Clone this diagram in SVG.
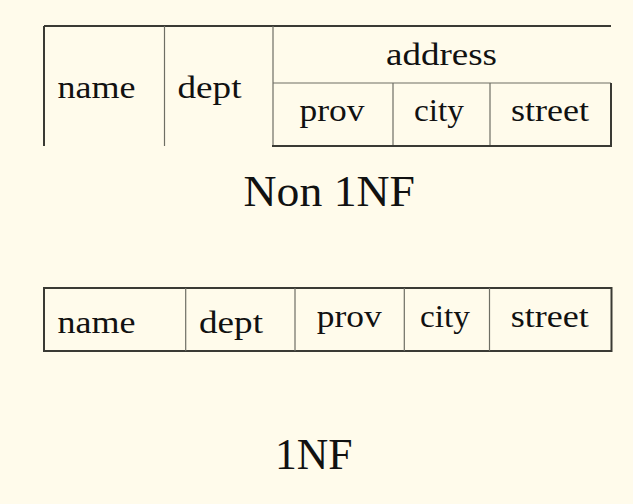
<svg xmlns="http://www.w3.org/2000/svg" width="633" height="504" viewBox="0 0 633 504">
<style>
.t{font-family:"Liberation Serif","DejaVu Serif",serif;font-size:32px;fill:#111;}
.h{font-family:"Liberation Serif","DejaVu Serif",serif;font-size:45px;fill:#111;}
.outer{stroke:#3a3a34;stroke-width:2;fill:none;}
.inner{stroke:#6e6e64;stroke-width:1.2;fill:none;}
</style>
<rect width="633" height="504" fill="#FFFBEB"/>
<g id="non1nf-table">
<g id="lines1">
<line class="outer" x1="44" y1="26" x2="611" y2="26"/>
<line class="outer" x1="44" y1="26" x2="44" y2="146"/>
<line class="inner" x1="164.5" y1="26" x2="164.5" y2="146"/>
<line class="inner" x1="273" y1="26" x2="273" y2="146"/>
<line class="inner" x1="273" y1="83" x2="611" y2="83"/>
<line class="inner" x1="393" y1="83" x2="393" y2="146"/>
<line class="inner" x1="490" y1="83" x2="490" y2="146"/>
<line class="outer" x1="611" y1="83" x2="611" y2="146"/>
<line class="outer" x1="272" y1="146" x2="612" y2="146"/>
</g>
<g id="n1-name"><text class="t" x="57.5" y="98" textLength="78" lengthAdjust="spacingAndGlyphs">name</text></g>
<g id="n1-dept"><text class="t" x="177.5" y="98" textLength="64" lengthAdjust="spacingAndGlyphs">dept</text></g>
<g id="n1-address"><text class="t" x="386" y="65" textLength="111" lengthAdjust="spacingAndGlyphs">address</text></g>
<g id="n1-prov"><text class="t" x="299.5" y="121" textLength="65" lengthAdjust="spacingAndGlyphs">prov</text></g>
<g id="n1-city"><text class="t" x="414" y="121" textLength="50" lengthAdjust="spacingAndGlyphs">city</text></g>
<g id="n1-street"><text class="t" x="511" y="121" textLength="78" lengthAdjust="spacingAndGlyphs">street</text></g>
</g>
<g id="title1"><text class="h" x="243.5" y="206" textLength="171.5" lengthAdjust="spacingAndGlyphs">Non 1NF</text></g>
<g id="1nf-table">
<g id="lines2">
<rect class="outer" x="44" y="288" width="567.5" height="63"/>
<line class="inner" x1="185.7" y1="288" x2="185.7" y2="351"/>
<line class="inner" x1="295" y1="288" x2="295" y2="351"/>
<line class="inner" x1="404.3" y1="288" x2="404.3" y2="351"/>
<line class="inner" x1="489.5" y1="288" x2="489.5" y2="351"/>
</g>
<g id="n2-name"><text class="t" x="57.5" y="332.5" textLength="78" lengthAdjust="spacingAndGlyphs">name</text></g>
<g id="n2-dept"><text class="t" x="199" y="332.5" textLength="64" lengthAdjust="spacingAndGlyphs">dept</text></g>
<g id="n2-prov"><text class="t" x="316.7" y="327" textLength="65" lengthAdjust="spacingAndGlyphs">prov</text></g>
<g id="n2-city"><text class="t" x="420" y="327" textLength="50" lengthAdjust="spacingAndGlyphs">city</text></g>
<g id="n2-street"><text class="t" x="510.7" y="327" textLength="78" lengthAdjust="spacingAndGlyphs">street</text></g>
</g>
<g id="title2"><text class="h" x="275" y="469" textLength="77.5" lengthAdjust="spacingAndGlyphs">1NF</text></g>
</svg>
